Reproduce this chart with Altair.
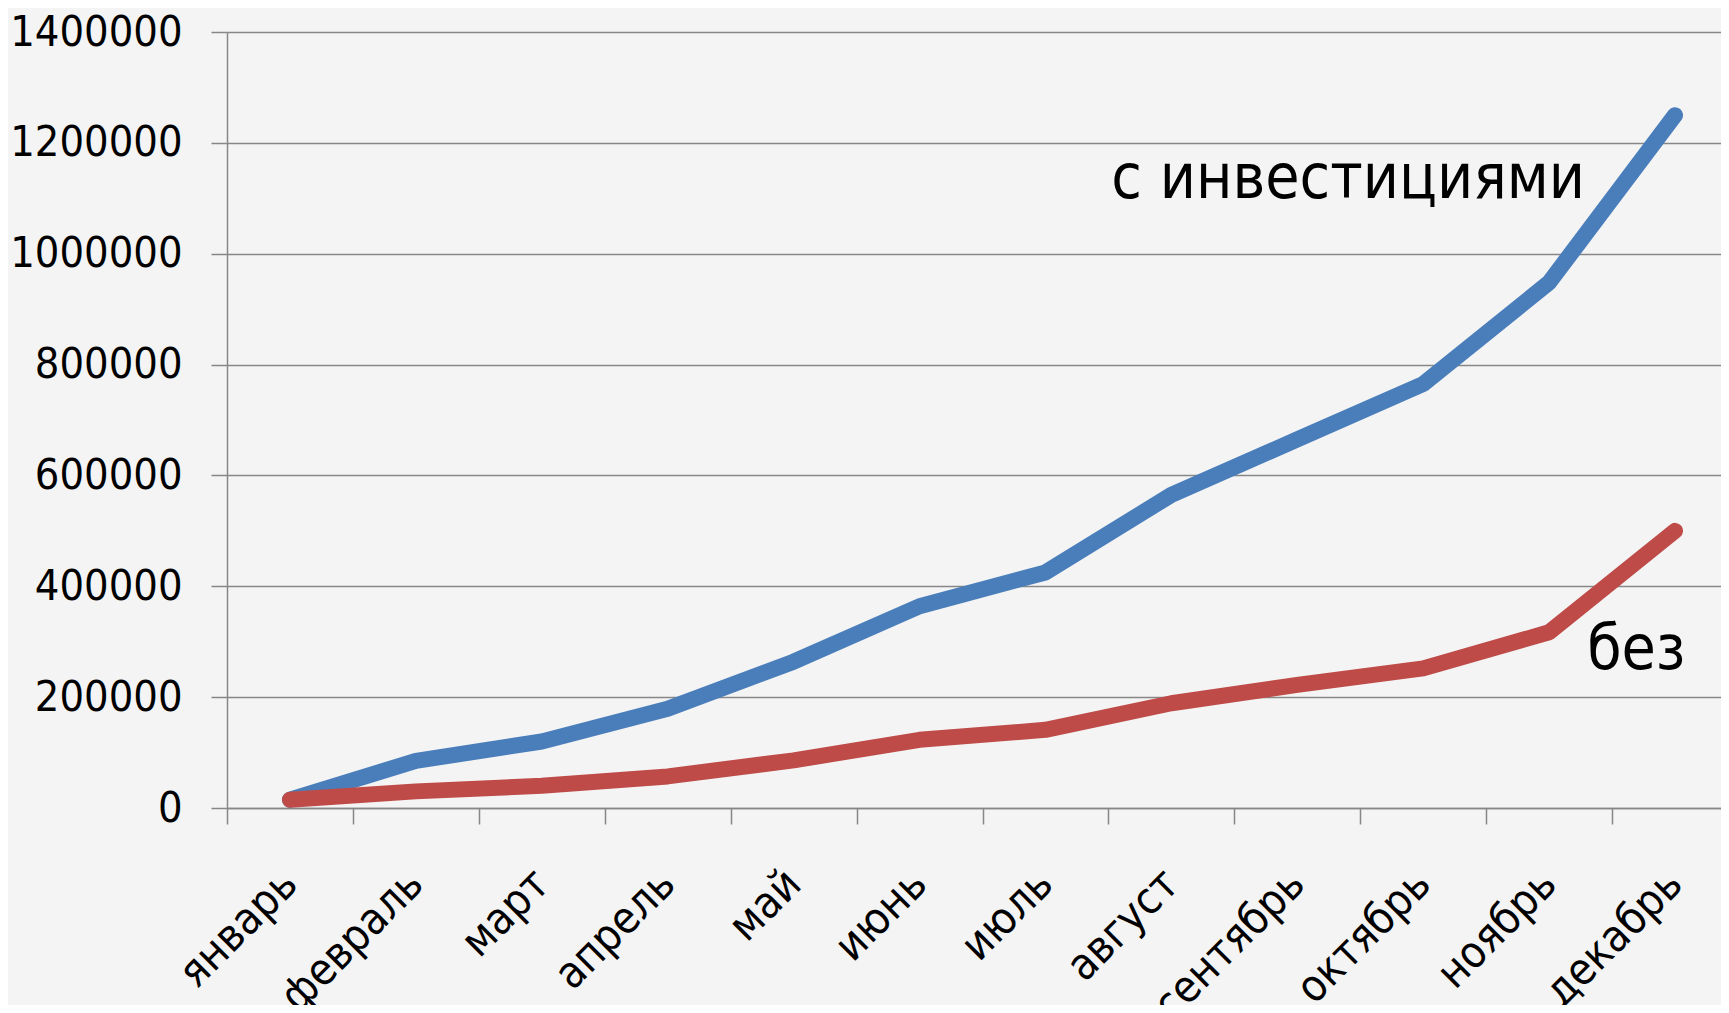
import altair as alt
import pandas as pd

months = ["январь", "февраль", "март", "апрель", "май", "июнь",
          "июль", "август", "сентябрь", "октябрь", "ноябрь", "декабрь"]
with_invest = [15000, 85000, 120000, 179000, 264000, 364000,
               425000, 565000, 665000, 765000, 948000, 1250000]
without_invest = [15000, 30000, 40000, 57000, 86000, 123000,
                  141000, 189000, 222000, 252000, 317000, 500000]
y_ticks = [0, 200000, 400000, 600000, 800000, 1000000, 1200000, 1400000]

ann_text = ["с инвестициями", "без"]
ann_month = ["декабрь", "ноябрь"]
ann_value = [1100000, 250000]

FONT = "DejaVu Sans Condensed, DejaVu Sans, sans-serif"
GRAY = "#878787"

df_blue = pd.DataFrame({"month": months, "value": with_invest})
df_red = pd.DataFrame({"month": months, "value": without_invest})
df_ann = pd.DataFrame({"month": ann_month, "value": ann_value, "text": ann_text})

xscale = alt.Scale(type="band", domain=months, paddingInner=0, paddingOuter=0,
                   range=[0, 1511])
yscale = alt.Scale(domain=[0, 1400000], nice=False, zero=True)

xenc = alt.X("month:N", scale=xscale, bandPosition=0.5, title=None,
             axis=alt.Axis(labelAngle=-45, labelAlign="right", labelBaseline="middle",
                           labelFontSize=44, labelFont=FONT, labelColor="black",
                           labelOffset=0, labelPadding=53, labelLimit=500,
                           labelOverlap=False, tickBand="extent", tickSize=16,
                           tickColor=GRAY, tickWidth=1.5, domainColor=GRAY,
                           domainWidth=1.5, grid=False))
yenc = alt.Y("value:Q", scale=yscale, title=None,
             axis=alt.Axis(values=y_ticks, format="d", labelFontSize=43,
                           labelFont=FONT, labelColor="black", labelPadding=29,
                           tickSize=16, tickColor=GRAY, tickWidth=1.5,
                           domainColor=GRAY, domainWidth=1.5, grid=True,
                           gridColor=GRAY, gridWidth=1.5))

blue = alt.Chart(df_blue).mark_line(
    color="#4a7ebb", strokeWidth=16, strokeCap="round", strokeJoin="round"
).encode(x=xenc, y=yenc)

red = alt.Chart(df_red).mark_line(
    color="#be4b48", strokeWidth=16, strokeCap="round", strokeJoin="round"
).encode(x=xenc, y=yenc)

ann1 = alt.Chart(df_ann.iloc[[0]]).mark_text(
    font=FONT, fontSize=62, color="black", align="right", baseline="alphabetic", dx=-90
).encode(x=alt.X("month:N", scale=xscale, bandPosition=0.5),
         y=alt.Y("value:Q", scale=yscale), text="text:N")

ann2 = alt.Chart(df_ann.iloc[[1]]).mark_text(
    font=FONT, fontSize=62, color="black", align="left", baseline="alphabetic", dx=38
).encode(x=alt.X("month:N", scale=xscale, bandPosition=0.5),
         y=alt.Y("value:Q", scale=yscale), text="text:N")

chart = alt.layer(blue, red, ann1, ann2).properties(
    width=1494, height=776,
    padding={"left": 219, "top": 24, "right": 0, "bottom": 197},
    autosize=alt.AutoSizeParams(type="none"),
    background="#f4f4f4",
).configure_view(stroke=None)

chart.save("out.html", embed_options={"renderer": "svg", "actions": False})
